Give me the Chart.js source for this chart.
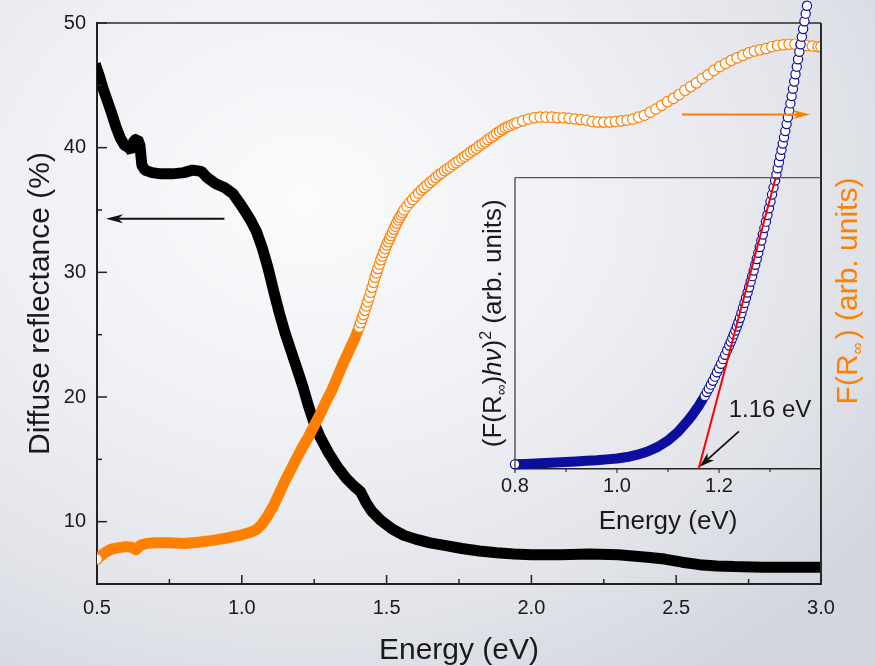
<!DOCTYPE html>
<html>
<head>
<meta charset="utf-8">
<script src="https://cdn.jsdelivr.net/npm/chart.js@4.4.1/dist/chart.umd.min.js"></script>
<style>
  html, body { margin: 0; padding: 0; }
  body {
    width: 875px; height: 666px; overflow: hidden;
    background: radial-gradient(ellipse 80% 85% at 35% 30%, #fafbfc 0%, #f0f1f5 40%, #e2e4ea 75%, #d3d6de 100%);
  }
  #wrap { position: relative; width: 875px; height: 666px; }
  #wrap canvas { position: absolute; left: 0; top: 0; }
</style>
</head>
<body>
<div id="wrap">
  <canvas id="main" width="875" height="666"></canvas>
  <canvas id="inset" width="875" height="666"></canvas>
</div>
<script>
// ---- Diffuse reflectance spectrum (%) vs photon energy (eV) ----
const reflE = [0.50, 0.51, 0.52, 0.535, 0.55, 0.565, 0.58, 0.595, 0.61, 0.62, 0.628, 0.64, 0.648, 0.655, 0.665,
  0.69, 0.72, 0.76, 0.80, 0.83, 0.86, 0.88, 0.91, 0.94, 0.97, 1.00, 1.03, 1.05, 1.07, 1.09, 1.11, 1.13, 1.15,
  1.17, 1.19, 1.21, 1.23, 1.25, 1.27, 1.30, 1.33, 1.36, 1.39, 1.41, 1.43, 1.45, 1.48, 1.52, 1.56, 1.60, 1.65,
  1.70, 1.76, 1.82, 1.88, 1.94, 2.00, 2.10, 2.20, 2.30, 2.40, 2.46, 2.52, 2.58, 2.64, 2.70, 2.80, 2.90, 3.00];
const reflPct = [46.3, 45.6, 44.8, 43.8, 42.8, 41.7, 40.8, 40.2, 40.0, 39.7, 40.6, 40.7, 40.2, 38.6, 38.2,
  38.0, 37.9, 37.9, 38.0, 38.2, 38.1, 37.6, 37.1, 36.8, 36.3, 35.3, 34.2, 33.3, 32.0, 30.4, 28.5, 26.7, 25.1,
  23.7, 22.3, 20.9, 19.3, 17.9, 16.8, 15.5, 14.4, 13.5, 12.8, 12.4, 11.5, 10.8, 10.1, 9.4, 8.9, 8.6, 8.3,
  8.1, 7.85, 7.65, 7.5, 7.4, 7.35, 7.35, 7.4, 7.35, 7.15, 7.0, 6.75, 6.55, 6.45, 6.4, 6.35, 6.35, 6.35];

// ---- Kubelka-Munk function F(R∞), arb. units ----
const kmE = [0.50, 0.51, 0.53, 0.55, 0.57, 0.60, 0.62, 0.635, 0.65, 0.67, 0.70, 0.75, 0.80, 0.85, 0.90, 0.95,
  1.00, 1.03, 1.05, 1.07, 1.09, 1.11, 1.13, 1.15, 1.17, 1.19, 1.21, 1.23, 1.25, 1.27, 1.29, 1.31, 1.33, 1.35,
  1.37, 1.39,
  1.400, 1.405, 1.410, 1.415, 1.420, 1.425, 1.430, 1.435, 1.440, 1.445, 1.450, 1.455, 1.460, 1.465, 1.470,
  1.475, 1.480, 1.485, 1.490, 1.495, 1.500, 1.505, 1.510, 1.515, 1.520, 1.525, 1.530, 1.535, 1.540, 1.545,
  1.550, 1.555, 1.560,
  1.57, 1.58, 1.59, 1.60, 1.61, 1.62, 1.63, 1.64, 1.65, 1.66, 1.67, 1.68, 1.69, 1.70, 1.71, 1.72, 1.73, 1.74,
  1.75, 1.76, 1.77, 1.78, 1.79, 1.80, 1.81, 1.82, 1.83, 1.84, 1.85, 1.86, 1.87, 1.88, 1.89, 1.90, 1.91, 1.92,
  1.93, 1.94, 1.95,
  1.97, 1.99, 2.01, 2.03, 2.05, 2.07, 2.09, 2.11, 2.13, 2.15, 2.17, 2.19, 2.21, 2.23, 2.25, 2.27, 2.29, 2.31,
  2.33, 2.35, 2.37, 2.39, 2.41, 2.43, 2.45, 2.47, 2.49, 2.51, 2.53, 2.55, 2.57, 2.59, 2.61, 2.63, 2.65, 2.67,
  2.69, 2.71, 2.73, 2.75, 2.77, 2.79, 2.81, 2.83, 2.85, 2.87, 2.89, 2.91, 2.93, 2.95, 2.97, 2.99, 3.00];
const kmVal = [7.0, 7.2, 7.55, 7.8, 7.9, 8.0, 7.95, 7.75, 8.1, 8.25, 8.3, 8.3, 8.25, 8.35, 8.5, 8.7,
  8.95, 9.15, 9.35, 9.8, 10.5, 11.3, 12.3, 13.3, 14.2, 15.1, 16.0, 16.8, 17.7, 18.6, 19.6, 20.5, 21.6, 22.7,
  23.7, 24.7,
  25.3, 25.6, 25.95, 26.3, 26.6, 26.95, 27.3, 27.65, 28.0, 28.4, 28.8, 29.2, 29.6, 29.95, 30.3,
  30.65, 31.0, 31.3, 31.6, 31.9, 32.2, 32.45, 32.7, 32.95, 33.2, 33.45, 33.7, 33.95, 34.2, 34.4,
  34.6, 34.8, 35.0,
  35.3, 35.6, 35.85, 36.1, 36.35, 36.6, 36.8, 37.0, 37.2, 37.4, 37.6, 37.8, 37.95, 38.15, 38.3, 38.45, 38.65, 38.8,
  38.95, 39.15, 39.3, 39.45, 39.65, 39.8, 39.95, 40.15, 40.3, 40.45, 40.65, 40.8, 40.95, 41.15, 41.3, 41.45, 41.6, 41.7,
  41.8, 41.9, 42.0,
  42.15, 42.3, 42.4, 42.45, 42.45, 42.45, 42.4, 42.4, 42.35, 42.3, 42.25, 42.2, 42.1, 42.05, 42.05, 42.05, 42.1, 42.15,
  42.2, 42.3, 42.45, 42.6, 42.85, 43.1, 43.4, 43.7, 43.95, 44.25, 44.6, 44.9, 45.2, 45.55, 45.85, 46.2, 46.5, 46.75,
  47.0, 47.2, 47.4, 47.6, 47.75, 47.85, 47.95, 48.1, 48.2, 48.25, 48.3, 48.3, 48.25, 48.2, 48.15, 48.1, 48.1];

// ---- Tauc plot (F(R∞)hν)^2, arb. units ----
const taucE = [0.80, 0.82, 0.84, 0.86, 0.88, 0.90, 0.92, 0.94, 0.96, 0.98, 1.00, 1.02, 1.04, 1.06, 1.08, 1.10, 1.12, 1.14,
  1.144, 1.148, 1.152, 1.156, 1.160, 1.164, 1.168, 1.172, 1.176, 1.180, 1.184, 1.188, 1.192, 1.196, 1.200, 1.204,
  1.208, 1.212, 1.216, 1.220,
  1.223, 1.226, 1.229, 1.232, 1.235, 1.238, 1.241, 1.244, 1.247, 1.250, 1.253, 1.256, 1.259, 1.262, 1.265, 1.268,
  1.271, 1.274, 1.277, 1.280, 1.283, 1.286, 1.289, 1.292, 1.295, 1.298, 1.301, 1.304, 1.307, 1.310,
  1.3125, 1.315, 1.3175, 1.320, 1.3225, 1.325, 1.3275, 1.330, 1.3325, 1.335, 1.3375, 1.340, 1.3425, 1.345, 1.3475,
  1.350, 1.3525, 1.355, 1.3575, 1.360, 1.3625, 1.365, 1.3675, 1.370, 1.3725, 1.375, 1.3775, 1.380];
const taucVal = [1.6, 1.75, 1.9, 2.05, 2.2, 2.4, 2.6, 2.8, 3.0, 3.3, 3.6, 4.1, 4.9, 6.0, 7.6, 9.8, 12.8, 16.8,
  17.7, 18.6, 19.6, 20.6, 21.6, 22.75, 23.9, 25.1, 26.4, 27.6, 28.96, 30.3, 31.7, 33.2, 34.6, 36.1,
  37.7, 39.2, 40.8, 42.4,
  43.66, 44.92, 46.2, 47.5, 48.9, 50.3, 51.8, 53.5, 55.3, 57.0, 58.8, 60.6, 62.4, 64.3, 66.2, 68.1,
  70.1, 72.1, 74.2, 76.2, 78.4, 80.5, 82.7, 84.9, 87.2, 89.5, 91.8, 94.2, 96.6, 99.0,
  101.1, 103.2, 105.3, 107.4, 109.55, 111.7, 113.85, 116.0, 118.4, 120.75, 123.1, 125.5, 128.0, 130.5, 133.0,
  135.5, 138.1, 140.65, 143.2, 145.8, 148.4, 151.05, 153.7, 156.3, 159.0, 161.65, 164.3, 167.0];

// Linear fit of the absorption edge; it meets the baseline at the band gap
const bandGap = 1.16;
const fitE = [bandGap, 1.311];
const fitVal = [0, 100];

// Axis ticks
const xTicks = [0.5, 1.0, 1.5, 2.0, 2.5, 3.0];
const xMinorTicks = [0.75, 1.25, 1.75, 2.25, 2.75];
const yTicks = [10, 20, 30, 40, 50];
const yMinorTicks = [15, 25, 35, 45];
const insetXTicks = [0.8, 1.0, 1.2];
const insetXMinorTicks = [0.9, 1.1, 1.3];
// Inset frame spans 0..100; the Tauc curve keeps rising above it up to the page edge
const insetFrameTop = 100;
const insetYMax = 159;

// Arrow annotations (data coordinates)
const reflArrow = { from: [0.94, 34.3], to: [0.531, 34.3] };
const kmArrow = { from: [2.52, 42.67], to: [2.962, 42.67] };
const gapArrow = { from: [1.239, 12.9], to: [bandGap + 0.002, 0.8] };
const gapLabelPos = [1.30, 20];

const FONT = "'Liberation Sans', Arial, sans-serif";
const INK = '#1a1a1a';
const ORANGE = '#ff8000';
const NAVY = '#0e0e9e';
const KM_SOLID_UNTIL = 1.40;     // densely sampled part of F(R∞) drawn as a solid band
const TAUC_SOLID_UNTIL = 1.17;   // same for the Tauc curve

function drawArrow(ctx, x1, y1, x2, y2, color, lw, headLen, headHalf) {
  const a = Math.atan2(y2 - y1, x2 - x1);
  const c = Math.cos(a), s = Math.sin(a);
  const bx = x2 - headLen * c, by = y2 - headLen * s;
  const nx = x2 - headLen * 0.72 * c, ny = y2 - headLen * 0.72 * s;
  ctx.save();
  ctx.strokeStyle = color; ctx.fillStyle = color; ctx.lineWidth = lw;
  ctx.beginPath(); ctx.moveTo(x1, y1); ctx.lineTo(nx, ny); ctx.stroke();
  ctx.beginPath();
  ctx.moveTo(x2, y2);
  ctx.lineTo(bx + headHalf * s, by - headHalf * c);
  ctx.lineTo(nx, ny);
  ctx.lineTo(bx - headHalf * s, by + headHalf * c);
  ctx.closePath(); ctx.fill();
  ctx.restore();
}

// Vertical (bottom-to-top) text made of runs with sub/superscripts
function drawRich(ctx, cx, cy, runs, color, baseSize) {
  ctx.save();
  ctx.translate(cx, cy);
  ctx.rotate(-Math.PI / 2);
  ctx.fillStyle = color;
  ctx.textBaseline = 'alphabetic';
  ctx.textAlign = 'left';
  const fontOf = r => (r.italic ? 'italic ' : '') + r.size + 'px ' + FONT;
  let total = 0;
  runs.forEach(r => { ctx.font = fontOf(r); r.w = ctx.measureText(r.t).width; total += r.w + (r.gap || 0); });
  let x = -total / 2;
  const base = baseSize * 0.35;
  runs.forEach(r => {
    x += r.gap || 0;
    ctx.font = fontOf(r);
    ctx.fillText(r.t, x, base + (r.dy || 0));
    x += r.w;
  });
  ctx.restore();
}

// Frame, inward ticks, reflectance arrow and right-hand axis title of the main plot
const mainDecor = {
  id: 'mainDecor',
  afterDraw(chart) {
    const { ctx, chartArea: ca, scales } = chart;
    const xs = scales.x, ys = scales.y;
    ctx.save();
    ctx.strokeStyle = '#2a2a2a';
    ctx.lineWidth = 1.5;
    ctx.beginPath(); ctx.moveTo(ca.left, ca.top); ctx.lineTo(ca.right, ca.top); ctx.stroke();
    ctx.lineWidth = 2;
    ctx.beginPath(); ctx.moveTo(ca.right, ca.top); ctx.lineTo(ca.right, ca.bottom); ctx.stroke();
    ctx.strokeStyle = '#222';
    ctx.lineWidth = 1.5;
    const tick = (vals, len, horiz) => vals.forEach(v => {
      ctx.beginPath();
      if (horiz) { const p = xs.getPixelForValue(v); ctx.moveTo(p, ca.bottom); ctx.lineTo(p, ca.bottom - len); }
      else { const p = ys.getPixelForValue(v); ctx.moveTo(ca.left, p); ctx.lineTo(ca.left + len, p); }
      ctx.stroke();
    });
    tick(xTicks, 9, true); tick(xMinorTicks, 5, true);
    tick(yTicks, 10, false); tick(yMinorTicks, 5, false);
    ctx.restore();

    drawArrow(ctx, xs.getPixelForValue(reflArrow.from[0]), ys.getPixelForValue(reflArrow.from[1]),
      xs.getPixelForValue(reflArrow.to[0]), ys.getPixelForValue(reflArrow.to[1]), '#111', 1.8, 17, 4.5);

    drawRich(ctx, 846, 291, [
      { t: 'F(R', size: 30 },
      { t: '\u221E', size: 17, dy: 6 },
      { t: ')', size: 30, gap: 3 },
      { t: ' (arb. units)', size: 30 }
    ], ORANGE, 30);
  }
};

const mainChart = new Chart(document.getElementById('main'), {
  type: 'line',
  data: {
    datasets: [
      {
        label: 'Diffuse reflectance',
        data: reflE.map((x, i) => ({ x, y: reflPct[i] })),
        yAxisID: 'y',
        borderColor: '#000',
        borderWidth: 11,
        borderCapStyle: 'square',
        borderJoinStyle: 'bevel',
        pointRadius: 0,
        tension: 0,
        order: 2
      },
      {
        label: 'F(R\u221E)',
        data: kmE.map((x, i) => ({ x, y: kmVal[i] })),
        yAxisID: 'yF',
        borderColor: ORANGE,
        borderWidth: 11,
        borderCapStyle: 'round',
        borderJoinStyle: 'round',
        segment: {
          borderColor: c => (kmE[c.p1DataIndex] <= KM_SOLID_UNTIL ? ORANGE : 'rgba(0,0,0,0)')
        },
        pointRadius: c => (c.dataIndex === 0 || kmE[c.dataIndex] > KM_SOLID_UNTIL ? 5.2 : 0),
        pointBorderWidth: 1.2,
        pointBorderColor: ORANGE,
        pointBackgroundColor: '#ffffff',
        tension: 0,
        order: 1
      }
    ]
  },
  options: {
    responsive: false,
    animation: false,
    devicePixelRatio: 1,
    events: [],
    layout: { padding: { left: 0, right: 54, top: 22, bottom: 0 } },
    plugins: { legend: { display: false }, tooltip: { enabled: false } },
    scales: {
      x: {
        type: 'linear', position: 'bottom', min: 0.5, max: 3.0,
        afterBuildTicks: s => { s.ticks = xTicks.map(v => ({ value: v })); },
        afterFit: s => { s.height = 82; },
        ticks: { font: { family: FONT, size: 20 }, color: INK, padding: 12, maxRotation: 0, autoSkip: false,
                 callback: v => Number(v).toFixed(1) },
        grid: { drawOnChartArea: false, drawTicks: false },
        border: { color: '#222', width: 2 },
        title: { display: true, text: 'Energy (eV)', color: INK,
                 font: { family: FONT, size: 30, lineHeight: 1 }, padding: { top: 0, bottom: 0 } }
      },
      y: {
        type: 'linear', position: 'left', min: 5, max: 50,
        afterBuildTicks: s => { s.ticks = yTicks.map(v => ({ value: v })); },
        afterFit: s => { s.width = 97; },
        ticks: { font: { family: FONT, size: 20 }, color: INK, padding: 11, callback: v => String(v) },
        grid: { drawOnChartArea: false, drawTicks: false },
        border: { color: '#222', width: 2 },
        title: { display: true, text: 'Diffuse reflectance (%)', color: INK,
                 font: { family: FONT, size: 30, lineHeight: 1 }, padding: { top: 26, bottom: 0 } }
      },
      yF: { type: 'linear', position: 'right', min: 5, max: 50, display: false }
    }
  },
  plugins: [mainDecor]
});

// Inset: frame, outward ticks, band-gap arrow and label, y title; plus the F(R∞) arrow on top
const insetDecor = {
  id: 'insetDecor',
  afterDraw(chart) {
    const { ctx, chartArea: ca, scales } = chart;
    const xs = scales.x, ys = scales.y;
    const top = ys.getPixelForValue(insetFrameTop);
    const bottom = ys.getPixelForValue(0);
    ctx.save();
    ctx.strokeStyle = '#555';
    ctx.lineWidth = 1.2;
    ctx.beginPath(); ctx.moveTo(ca.left, top); ctx.lineTo(ca.right, top); ctx.stroke();
    ctx.strokeStyle = '#333';
    ctx.beginPath(); ctx.moveTo(ca.left, top); ctx.lineTo(ca.left, bottom); ctx.stroke();
    const tick = (vals, len) => vals.forEach(v => {
      const p = xs.getPixelForValue(v);
      ctx.beginPath(); ctx.moveTo(p, bottom); ctx.lineTo(p, bottom + len); ctx.stroke();
    });
    tick(insetXTicks, 4); tick(insetXMinorTicks, 3);
    ctx.restore();

    drawArrow(ctx, xs.getPixelForValue(gapArrow.from[0]), ys.getPixelForValue(gapArrow.from[1]),
      xs.getPixelForValue(gapArrow.to[0]), ys.getPixelForValue(gapArrow.to[1]), '#111', 1.8, 15, 5);

    ctx.save();
    ctx.fillStyle = INK;
    ctx.font = '24px ' + FONT;
    ctx.textAlign = 'center';
    ctx.textBaseline = 'middle';
    ctx.fillText(bandGap.toFixed(2) + ' eV', xs.getPixelForValue(gapLabelPos[0]), ys.getPixelForValue(gapLabelPos[1]));
    ctx.restore();

    drawRich(ctx, 492, (top + bottom) / 2, [
      { t: '(F(R', size: 26 },
      { t: '\u221E', size: 15, dy: 5 },
      { t: ')', size: 26 },
      { t: 'h\u03BD', size: 26, italic: true },
      { t: ')', size: 26 },
      { t: '2', size: 16, dy: -10 },
      { t: ' (arb. units)', size: 26 }
    ], INK, 26);

    const mx = mainChart.scales.x, my = mainChart.scales.yF;
    drawArrow(ctx, mx.getPixelForValue(kmArrow.from[0]), my.getPixelForValue(kmArrow.from[1]),
      mx.getPixelForValue(kmArrow.to[0]), my.getPixelForValue(kmArrow.to[1]), ORANGE, 2, 17, 4.5);
  }
};

new Chart(document.getElementById('inset'), {
  type: 'line',
  data: {
    datasets: [
      {
        label: '(F(R\u221E)h\u03BD)\u00B2',
        data: taucE.map((x, i) => ({ x, y: taucVal[i] })),
        borderColor: NAVY,
        borderWidth: 10,
        borderCapStyle: 'round',
        borderJoinStyle: 'round',
        segment: {
          borderColor: c => (taucE[c.p1DataIndex] <= TAUC_SOLID_UNTIL ? NAVY : 'rgba(0,0,0,0)')
        },
        pointRadius: c => (c.dataIndex === 0 || taucE[c.dataIndex] > TAUC_SOLID_UNTIL ? 4.6 : 0),
        pointBorderWidth: 1.2,
        pointBorderColor: NAVY,
        pointBackgroundColor: '#ffffff',
        tension: 0,
        clip: false,
        order: 2
      },
      {
        label: 'Linear fit',
        data: fitE.map((x, i) => ({ x, y: fitVal[i] })),
        borderColor: '#ff0000',
        borderWidth: 2,
        pointRadius: 0,
        clip: false,
        order: 1
      }
    ]
  },
  options: {
    responsive: false,
    animation: false,
    devicePixelRatio: 1,
    events: [],
    layout: { padding: { left: 515, right: 54, top: 0, bottom: 127 } },
    plugins: { legend: { display: false }, tooltip: { enabled: false } },
    scales: {
      x: {
        type: 'linear', position: 'bottom', min: 0.8, max: 1.4,
        afterBuildTicks: s => { s.ticks = insetXTicks.map(v => ({ value: v })); },
        afterFit: s => { s.height = 70; },
        ticks: { font: { family: FONT, size: 20 }, color: INK, padding: 5, maxRotation: 0, autoSkip: false,
                 callback: v => Number(v).toFixed(1) },
        grid: { drawOnChartArea: false, drawTicks: false },
        border: { color: '#222', width: 1.5 },
        title: { display: true, text: 'Energy (eV)', color: INK,
                 font: { family: FONT, size: 26, lineHeight: 1 }, padding: { top: 0, bottom: 4 } }
      },
      y: {
        type: 'linear', position: 'left', min: 0, max: insetYMax,
        afterFit: s => { s.width = 0; },
        ticks: { display: false },
        grid: { display: false, drawTicks: false },
        border: { display: false }
      }
    }
  },
  plugins: [insetDecor]
});
</script>
</body>
</html>
